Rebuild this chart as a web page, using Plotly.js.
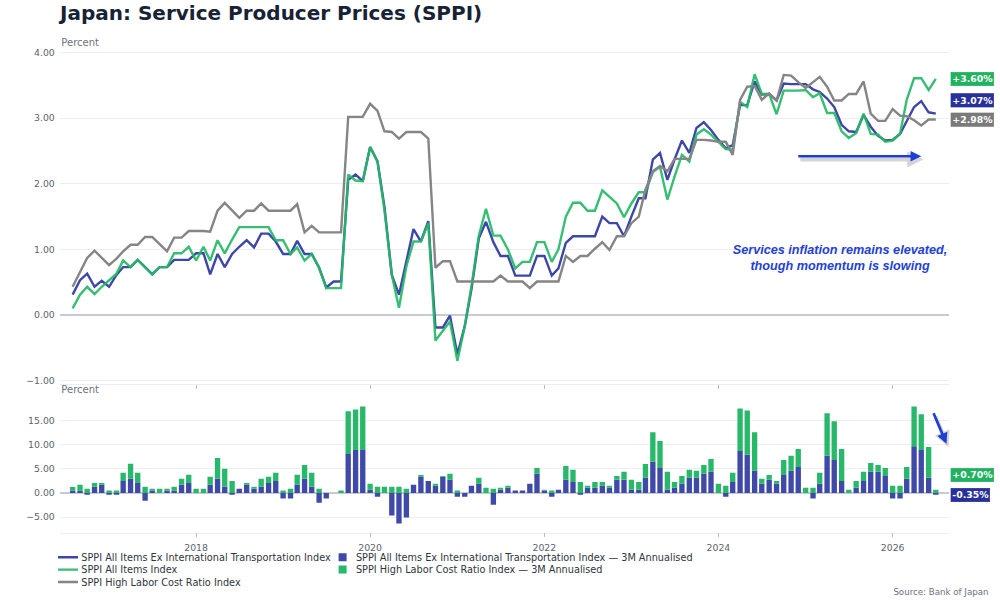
<!DOCTYPE html>
<html>
<head>
<meta charset="utf-8">
<script src="https://cdn.plot.ly/plotly-3.0.1.min.js"></script>
<style>
html,body{margin:0;padding:0;overflow:hidden;background:#fff;width:1000px;height:600px}
#wrap{width:1000px;height:600px;overflow:hidden;position:relative}
#chart{width:1500px;height:900px;transform:scale(0.6666667);transform-origin:0 0;position:absolute;left:0;top:0}
</style>
</head>
<body>
<div id="wrap"><div id="chart"></div></div>
<script>
// ---- Data (monthly, starting Aug 2016) ----
const startMonth = '2016-08';

const exIntlTransportIndex = [
0.31,0.53,0.63,0.43,0.52,0.43,0.61,0.73,0.73,0.84,0.73,0.62,0.73,0.73,0.84,0.84,0.84,0.94,0.94,0.62,
0.93,0.73,0.93,1.04,1.14,1.03,1.24,1.24,1.12,0.93,0.93,1.13,0.93,0.93,0.72,0.42,0.51,0.51,2.06,2.14,
2.04,2.56,2.34,1.65,0.61,0.31,0.82,1.31,1.12,1.43,-0.19,-0.19,-0.01,-0.60,-0.17,0.39,1.17,1.42,1.11,0.90,
0.90,0.60,0.60,0.60,0.90,0.90,0.60,0.71,1.10,1.20,1.20,1.20,1.20,1.50,1.40,1.40,1.20,1.50,1.78,1.78,
2.37,2.47,2.06,2.37,2.66,2.47,2.85,2.94,2.82,2.67,2.54,2.59,3.20,3.20,3.56,3.36,3.37,3.27,3.53,3.52,
3.52,3.52,3.44,3.40,3.30,3.17,2.90,2.80,2.79,3.05,2.87,2.73,2.66,2.67,2.76,2.96,3.17,3.26,3.09,3.07];

const allItemsIndex = [
0.10,0.31,0.43,0.32,0.43,0.53,0.63,0.83,0.73,0.84,0.73,0.62,0.73,0.73,0.94,0.94,1.04,0.83,1.04,0.83,
1.14,0.94,1.15,1.34,1.34,1.34,1.34,1.34,1.14,1.14,0.93,1.03,0.83,0.93,0.72,0.41,0.41,0.41,2.14,2.05,
2.04,2.56,2.34,1.60,0.61,0.11,0.74,1.12,1.12,1.40,-0.39,-0.25,-0.10,-0.70,-0.17,0.44,1.21,1.62,1.21,1.21,
1.00,0.71,0.81,0.81,1.11,1.11,0.81,1.00,1.50,1.71,1.71,1.59,1.59,1.90,1.80,1.70,1.49,1.70,1.87,1.87,
2.18,2.26,1.76,2.11,2.44,2.34,2.75,2.83,2.75,2.64,2.53,2.52,3.25,3.17,3.67,3.37,3.37,3.06,3.42,3.42,
3.42,3.43,3.32,3.38,3.08,3.08,2.80,2.70,2.77,3.07,2.76,2.75,2.64,2.66,2.76,3.28,3.61,3.61,3.43,3.60];

const highLaborIndex = [
0.43,0.65,0.87,0.98,0.87,0.76,0.86,0.97,1.07,1.07,1.19,1.19,1.08,0.97,1.18,1.18,1.28,1.28,1.28,1.27,
1.59,1.71,1.59,1.48,1.59,1.59,1.70,1.59,1.59,1.59,1.59,1.69,1.26,1.36,1.26,1.26,1.26,1.26,3.02,3.02,
3.02,3.22,3.11,2.80,2.79,2.69,2.79,2.79,2.79,2.69,0.72,0.82,0.82,0.51,0.51,0.51,0.51,0.51,0.51,0.60,
0.51,0.51,0.51,0.41,0.51,0.51,0.51,0.51,0.90,0.81,0.90,0.90,1.01,1.11,0.99,1.20,1.20,1.40,1.50,1.91,
2.19,2.27,2.19,2.38,2.38,2.38,2.67,2.67,2.66,2.64,2.64,2.44,3.28,3.48,3.49,3.28,3.38,3.27,3.66,3.65,
3.55,3.46,3.55,3.63,3.48,3.27,3.27,3.37,3.37,3.56,3.07,2.96,2.96,3.14,3.04,3.03,2.97,2.89,2.98,2.98];

const exIntlTransport3M = [
0.5,0.5,-0.35,1.3,1.7,-0.35,-0.35,2.5,2.95,2.1,-1.6,0.5,0,0.5,0.5,1.7,2.1,0,0,1.7,
2.95,1.3,-0.35,0.9,1.7,0.9,1.3,2.1,2.5,-1.15,-1.15,1.7,2.95,1.3,-2.0,-1.15,0,0,8.1,8.9,
8.9,0.7,-0.75,0,-4.65,-6.3,-5.05,1.7,3.35,2.5,1.5,3.35,2.75,-0.75,-0.75,1.5,1.9,0,-2.4,0.7,
1.1,0.5,0.5,1.9,4.0,0.5,-0.75,0.7,2.75,2.3,-0.35,1.1,1.1,1.5,1.1,2.75,2.75,0.7,0.7,3.15,
6.45,5.2,0.7,1.1,1.9,3.15,3.15,4.0,4.4,0,-0.75,2.3,8.7,7.9,4.6,1.9,2.75,1.9,3.75,4.6,
5.4,0,-1.15,1.9,7.7,6.85,2.5,0,1.1,2.5,4.4,4.4,3.55,-1.15,-1.15,2.95,9.7,8.9,3.15,-0.35];

const highLabor3M = [
0.75,1.2,0.9,0.75,0.35,0.5,0.5,1.7,3.1,2.1,1.3,0.4,0.9,0.4,0.8,1.25,1.7,0.9,0.9,1.65,
4.3,3.7,2.5,0,0.4,0.4,1.65,1.25,1.7,0.5,0.9,2.1,2.85,2.9,0.9,0,0,0.5,8.8,8.4,
9.0,1.2,1.3,1.3,1.3,1.3,0.9,0,0.4,0,0.4,0.2,1.25,0.5,0,0,1.25,1.1,0.9,0.4,
0.4,0,0,0,1.2,0.2,0.5,0,2.85,2.5,2.3,0.4,1.2,0.8,0.4,0.8,1.65,2.05,1.6,2.85,
6.15,5.55,3.7,1.2,1.65,1.65,1.45,1.8,2.65,1.9,1.5,1.9,8.8,9.2,8.0,1.05,1.0,0.6,3.1,3.1,
3.7,1.1,1.1,2.3,8.8,8.0,6.6,0.7,1.4,1.9,1.8,1.4,1.65,1.5,1.5,2.45,8.2,7.4,6.35,0.7];

const seriesNames = [
  'SPPI All Items Ex International Transportation Index',
  'SPPI All Items Index',
  'SPPI High Labor Cost Ratio Index',
  'SPPI All Items Ex International Transportation Index — 3M Annualised',
  'SPPI High Labor Cost Ratio Index — 3M Annualised'
];
const titleText = 'Japan: Service Producer Prices (SPPI)';
const noteLines = ['Services inflation remains elevated,', 'though momentum is slowing'];
const sourceText = 'Source: Bank of Japan';

// month category axis
function monthList(start, n) {
  let [y, m] = start.split('-').map(Number);
  const out = [];
  for (let k = 0; k < n; k++) {
    out.push(y + '-' + String(m).padStart(2, '0') + '-01');
    m++; if (m > 12) { m = 1; y++; }
  }
  return out;
}
const months = monthList(startMonth, exIntlTransportIndex.length);

const BLUE = '#3c47a7', GREEN = '#25b866', GRAY = '#858585';
const BLUE_BAR = '#3f49a8', GREEN_BAR = '#27b969';
const FONT = 'DejaVu Sans, sans-serif';

const data = [
  {x: months, y: exIntlTransportIndex, name: seriesNames[0], type: 'scatter', mode: 'lines',
   line: {color: BLUE, width: 3.6}, xaxis: 'x', yaxis: 'y', legend: 'legend'},
  {x: months, y: allItemsIndex, name: seriesNames[1], type: 'scatter', mode: 'lines',
   line: {color: GREEN, width: 3.6}, opacity: 0.92, xaxis: 'x', yaxis: 'y', legend: 'legend2'},
  {x: months, y: highLaborIndex, name: seriesNames[2], type: 'scatter', mode: 'lines',
   line: {color: GRAY, width: 3.6}, xaxis: 'x', yaxis: 'y', legend: 'legend3'},
  {x: months, y: exIntlTransport3M, name: seriesNames[3], type: 'bar',
   marker: {color: BLUE_BAR}, xaxis: 'x2', yaxis: 'y2', legend: 'legend4'},
  {x: months, y: highLabor3M, name: seriesNames[4], type: 'bar',
   marker: {color: GREEN_BAR}, xaxis: 'x2', yaxis: 'y2', legend: 'legend5'}
];

const last = a => a[a.length - 1];
const fmt = v => (v >= 0 ? '+' : '-') + Math.abs(v).toFixed(2) + '%';

function endLabel(val, yref, bg, yshift) {
  return {xref: 'paper', x: 1, xanchor: 'left', xshift: 3, yref: yref, y: val, yanchor: 'middle',
    yshift: yshift, text: '<b>' + fmt(val) + '</b>', showarrow: false,
    font: {family: FONT, size: 14, color: '#ffffff'}, bgcolor: bg, bordercolor: bg,
    borderwidth: 1, borderpad: 1.5};
}

function legendCell(x, y) {
  return {orientation: 'h', x: x, xanchor: 'left', y: y, yanchor: 'top',
          font: {family: FONT, size: 14.6, color: '#2f3540'}, bgcolor: 'rgba(0,0,0,0)', itemwidth: 30};
}
const COL1 = -0.006, COL2 = 0.303;
const ROW1 = -0.0289, ROW2 = -0.0544, ROW3 = -0.0799;

const xRange = ['2016-06-09', '2026-08-24'];
const tickFont = {family: FONT, size: 14, color: '#5c6470'};
const gridC = '#eceef3';

const layout = {
  width: 1500, height: 900,
  paper_bgcolor: '#ffffff', plot_bgcolor: '#ffffff',
  font: {family: FONT, size: 14, color: '#333a45'},
  margin: {l: 90, r: 77, t: 73.5, b: 100.5, autoexpand: false},
  title: {text: titleText, xref: 'container', x: 0.06, xanchor: 'left', yref: 'container',
          y: 1 - 20 / 900, yanchor: 'middle',
          font: {family: FONT, size: 30, color: '#172235', weight: 'bold'}},
  barmode: 'relative', bargap: 0.2,
  showlegend: true,
  legend: legendCell(COL1, ROW1),
  legend2: legendCell(COL1, ROW2),
  legend3: legendCell(COL1, ROW3),
  legend4: legendCell(COL2, ROW1),
  legend5: legendCell(COL2, ROW2),
  hovermode: false,
  xaxis: {domain: [0, 1], anchor: 'y', type: 'date', range: xRange, matches: 'x2',
          showticklabels: false, ticks: 'outside', ticklen: 6, tickcolor: '#9a9ea6',
          tick0: '2018-01-01', dtick: 'M24', showgrid: false, showline: true, linecolor: '#e3e5ea', zeroline: false},
  yaxis: {domain: [0.3079, 1], anchor: 'x', range: [-1.05, 4.05], dtick: 1, tickformat: '.2f',
          tickfont: tickFont, gridcolor: gridC, gridwidth: 1.5, zeroline: true, zerolinecolor: '#c8cbd0',
          zerolinewidth: 2, showline: false, ticks: 'outside', ticklen: 4, tickcolor: 'rgba(0,0,0,0)'},
  xaxis2: {domain: [0, 1], anchor: 'y2', type: 'date', range: xRange,
           ticks: 'outside', ticklen: 6, tickcolor: '#9a9ea6', tickfont: tickFont, ticklabelstandoff: 3,
           tick0: '2018-01-01', dtick: 'M24', tickformat: '%Y', showgrid: false,
           showline: true, linecolor: '#e3e5ea', zeroline: false},
  yaxis2: {domain: [0, 0.2734], anchor: 'x2', range: [-8.2, 19.14], dtick: 5, tickformat: '.2f',
           tickfont: tickFont, gridcolor: gridC, gridwidth: 1.5, zeroline: true, zerolinecolor: '#c8cbd0',
           zerolinewidth: 2, showline: false, ticks: 'outside', ticklen: 4, tickcolor: 'rgba(0,0,0,0)'},
  annotations: [
    {xref: 'paper', x: 0, xanchor: 'left', yref: 'paper', y: 1, yanchor: 'middle', yshift: 10,
     text: 'Percent', showarrow: false, font: {family: FONT, size: 15, color: '#6b7280'}},
    {xref: 'paper', x: 0, xanchor: 'left', yref: 'paper', y: 0.2734, yanchor: 'middle', yshift: 16,
     text: 'Percent', showarrow: false, font: {family: FONT, size: 15, color: '#6b7280'}},
    // arrow shadows
    {xref: 'x', yref: 'y', x: '2026-05-01', y: 2.42, axref: 'x', ayref: 'y', ax: '2024-11-27', ay: 2.42,
     xshift: 3, yshift: -5, text: '', showarrow: true, arrowhead: 2, arrowsize: 0.8, arrowwidth: 6,
     arrowcolor: 'rgba(70,70,70,0.22)'},
    {xref: 'x', yref: 'y', x: '2026-05-01', y: 2.42, axref: 'x', ayref: 'y', ax: '2024-11-27', ay: 2.42,
     text: '', showarrow: true, arrowhead: 2, arrowsize: 0.8, arrowwidth: 4, arrowcolor: '#1f3fd4'},
    {xref: 'x2', yref: 'y2', x: '2026-08-15', y: 10.2, axref: 'x2', ayref: 'y2', ax: '2026-06-20', ay: 16.7,
     xshift: 3, yshift: -5, text: '', showarrow: true, arrowhead: 2, arrowsize: 0.8, arrowwidth: 6,
     arrowcolor: 'rgba(70,70,70,0.22)'},
    {xref: 'x2', yref: 'y2', x: '2026-08-15', y: 10.2, axref: 'x2', ayref: 'y2', ax: '2026-06-20', ay: 16.7,
     text: '', showarrow: true, arrowhead: 2, arrowsize: 0.8, arrowwidth: 4, arrowcolor: '#1f3fd4'},
    {xref: 'paper', x: 0.878, xanchor: 'center', yref: 'y', y: 0.87, yanchor: 'middle',
     text: noteLines.map(s => '<b><i>' + s + '</i></b>').join('<br>'), showarrow: false, align: 'center',
     font: {family: 'Liberation Sans, Arial, sans-serif', size: 19, color: '#2340d6'}},
    endLabel(last(allItemsIndex), 'y', '#20b25f', 0),
    endLabel(last(exIntlTransportIndex), 'y', '#28309a', 20),
    endLabel(last(highLaborIndex), 'y', '#7a7a7a', 0),
    endLabel(last(highLabor3M), 'y2', '#20b25f', 22),
    endLabel(last(exIntlTransport3M), 'y2', '#28309a', 0),
    {xref: 'paper', x: 1.0465, xanchor: 'right', yref: 'paper', y: -0.1219, yanchor: 'middle',
     text: sourceText, showarrow: false, font: {family: FONT, size: 13, color: '#6b7280'}}
  ]
};

Plotly.newPlot('chart', data, layout, {staticPlot: true, displayModeBar: false});
</script>
</body>
</html>
